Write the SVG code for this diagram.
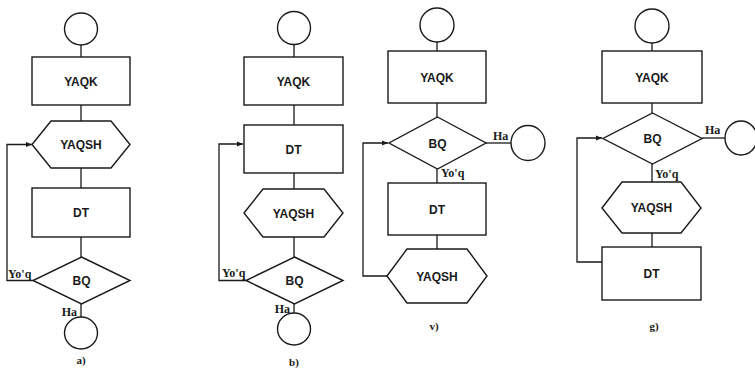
<svg xmlns="http://www.w3.org/2000/svg" width="755" height="368" viewBox="0 0 755 368">
<defs>
<marker id="arr" markerUnits="userSpaceOnUse" markerWidth="7" markerHeight="6" refX="6" refY="3" orient="auto">
<path d="M0,0.5 L6,3 L0,5.5 z" fill="#1a1a1a"/>
</marker>
<style>
.s{fill:#fff;stroke:#1a1a1a;stroke-width:1.4}
.c{fill:none;stroke:#1a1a1a;stroke-width:1.3}
.t{font-family:"Liberation Sans",Arial,sans-serif;font-weight:bold;font-size:12px;fill:#1a1a1a;text-anchor:middle}
.l{font-family:"Liberation Serif","Times New Roman",serif;font-weight:bold;font-size:12px;fill:#1a1a1a}
.cap{font-family:"Liberation Serif","Times New Roman",serif;font-weight:bold;font-size:11px;fill:#1a1a1a;text-anchor:middle}
</style>
</defs>
<rect width="755" height="368" fill="#fff"/>

<g id="connectors">
<!-- a -->
<line class="c" x1="81" y1="45" x2="81" y2="57"/>
<line class="c" x1="81" y1="105" x2="81" y2="121"/>
<line class="c" x1="81" y1="168" x2="81" y2="188"/>
<line class="c" x1="81" y1="237" x2="81" y2="257"/>
<line class="c" x1="81" y1="304" x2="81" y2="317"/>
<path class="c" d="M33,280.5 H7 V144.5 H32" marker-end="url(#arr)"/>
<!-- b -->
<line class="c" x1="294" y1="44.5" x2="294" y2="57"/>
<line class="c" x1="294" y1="105" x2="294" y2="125"/>
<line class="c" x1="294" y1="173" x2="294" y2="189"/>
<line class="c" x1="294" y1="237" x2="294" y2="257"/>
<line class="c" x1="294" y1="304" x2="294" y2="313"/>
<path class="c" d="M246,280.5 H219 V144 H243" marker-end="url(#arr)"/>
<!-- v -->
<line class="c" x1="437" y1="42" x2="437" y2="51"/>
<line class="c" x1="437" y1="103" x2="437" y2="117"/>
<line class="c" x1="437" y1="169" x2="437" y2="183"/>
<line class="c" x1="437" y1="235" x2="437" y2="249"/>
<line class="c" x1="486" y1="143" x2="511" y2="143"/>
<path class="c" d="M387,276 H363 V143 H388" marker-end="url(#arr)"/>
<!-- g -->
<line class="c" x1="652" y1="43" x2="652" y2="51"/>
<line class="c" x1="652" y1="103" x2="652" y2="113"/>
<line class="c" x1="652" y1="164" x2="652" y2="182"/>
<line class="c" x1="652" y1="233" x2="652" y2="247"/>
<line class="c" x1="702" y1="138" x2="725" y2="138"/>
<path class="c" d="M602,262 H577 V138 H602" marker-end="url(#arr)"/>
</g>

<!-- a) -->
<g id="a-start"><ellipse class="s" cx="81" cy="29" rx="16.5" ry="16"/></g>
<g id="a-yaqk"><rect class="s" x="32" y="57" width="98" height="48"/><text class="t" x="81" y="85.5">YAQK</text></g>
<g id="a-yaqsh"><polygon class="s" points="32,144.5 51,121 111,121 130,144.5 111,168 51,168"/><text class="t" x="81" y="149">YAQSH</text></g>
<g id="a-dt"><rect class="s" x="32" y="188" width="98" height="49"/><text class="t" x="81" y="217">DT</text></g>
<g id="a-bq"><polygon class="s" points="81.5,257 130,280.5 81.5,304 33,280.5"/><text class="t" x="81.5" y="285">BQ</text></g>
<g id="a-end"><ellipse class="s" cx="81" cy="333" rx="16.5" ry="16"/></g>
<text class="l" x="8" y="278">Yo'q</text>
<text class="l" x="77" y="316" text-anchor="end">Ha</text>
<text class="cap" x="81" y="364">a)</text>

<!-- b) -->
<g id="b-start"><ellipse class="s" cx="294" cy="28" rx="16.5" ry="16.5"/></g>
<g id="b-yaqk"><rect class="s" x="244" y="57" width="99" height="48"/><text class="t" x="293.5" y="85.5">YAQK</text></g>
<g id="b-dt"><rect class="s" x="244" y="125" width="99" height="48"/><text class="t" x="293.5" y="153.5">DT</text></g>
<g id="b-yaqsh"><polygon class="s" points="244,213 263,189 324,189 343,213 324,237 263,237"/><text class="t" x="293.5" y="217.5">YAQSH</text></g>
<g id="b-bq"><polygon class="s" points="294.5,257 343,280.5 294.5,304 246,280.5"/><text class="t" x="294.5" y="285">BQ</text></g>
<g id="b-end"><ellipse class="s" cx="294" cy="329" rx="16.5" ry="16"/></g>
<text class="l" x="222" y="277">Yo'q</text>
<text class="l" x="290" y="313" text-anchor="end">Ha</text>
<text class="cap" x="294" y="366">b)</text>

<!-- v) -->
<g id="v-start"><ellipse class="s" cx="437" cy="25" rx="17" ry="17"/></g>
<g id="v-yaqk"><rect class="s" x="388" y="51" width="98" height="52"/><text class="t" x="437" y="81.5">YAQK</text></g>
<g id="v-bq"><polygon class="s" points="437.5,117 486,143 437.5,169 389,143"/><text class="t" x="437.5" y="147.5">BQ</text></g>
<g id="v-end"><ellipse class="s" cx="528" cy="143" rx="17" ry="17.5"/></g>
<g id="v-dt"><rect class="s" x="388" y="183" width="98" height="52"/><text class="t" x="437" y="213.5">DT</text></g>
<g id="v-yaqsh"><polygon class="s" points="387,276 407,249 467,249 487,276 467,303 407,303"/><text class="t" x="437" y="280.5">YAQSH</text></g>
<text class="l" x="493" y="140">Ha</text>
<text class="l" x="441" y="177">Yo'q</text>
<text class="cap" x="434" y="330">v)</text>

<!-- g) -->
<g id="g-start"><ellipse class="s" cx="652" cy="26" rx="17" ry="17"/></g>
<g id="g-yaqk"><rect class="s" x="602" y="51" width="100" height="52"/><text class="t" x="652" y="81.5">YAQK</text></g>
<g id="g-bq"><polygon class="s" points="652.5,113 702,138.5 652.5,164 603,138.5"/><text class="t" x="652.5" y="143">BQ</text></g>
<g id="g-end"><ellipse class="s" cx="741" cy="138" rx="16" ry="17"/></g>
<g id="g-yaqsh"><polygon class="s" points="602,208 622,182 681,182 701,208 681,233 622,233"/><text class="t" x="651.5" y="212">YAQSH</text></g>
<g id="g-dt"><rect class="s" x="602" y="247" width="99" height="53"/><text class="t" x="651.5" y="277.5">DT</text></g>
<text class="l" x="705" y="134">Ha</text>
<text class="l" x="655" y="178">Yo'q</text>
<text class="cap" x="654" y="330">g)</text>
</svg>
